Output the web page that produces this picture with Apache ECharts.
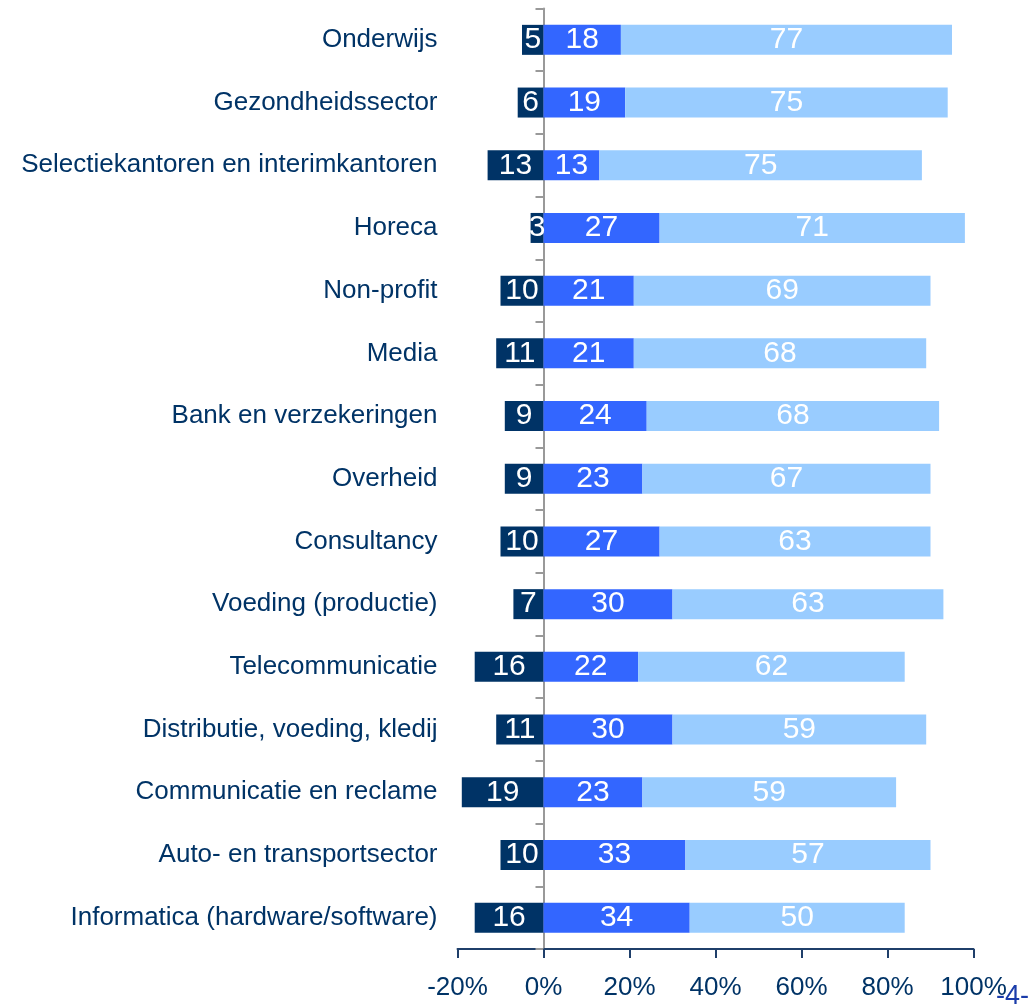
<!DOCTYPE html>
<html>
<head>
<meta charset="utf-8">
<script src="https://cdn.jsdelivr.net/npm/echarts@6/dist/echarts.min.js"></script>
<style>
html,body{margin:0;padding:0;background:#fff;}
#chart{width:1030px;height:1006px;}
</style>
</head>
<body>
<div id="chart"></div>
<script>
const categories = [
  "Onderwijs",
  "Gezondheidssector",
  "Selectiekantoren en interimkantoren",
  "Horeca",
  "Non-profit",
  "Media",
  "Bank en verzekeringen",
  "Overheid",
  "Consultancy",
  "Voeding (productie)",
  "Telecommunicatie",
  "Distributie, voeding, kledij",
  "Communicatie en reclame",
  "Auto- en transportsector",
  "Informatica (hardware/software)"
];
const negativeValues = [5, 6, 13, 3, 10, 11, 9, 9, 10, 7, 16, 11, 19, 10, 16];
const middleValues   = [18, 19, 13, 27, 21, 21, 24, 23, 27, 30, 22, 30, 23, 33, 34];
const positiveValues = [77, 75, 75, 71, 69, 68, 68, 67, 63, 63, 62, 59, 59, 57, 50];
const xTickValues = [-20, 0, 20, 40, 60, 80, 100];

const FONT = "'Liberation Sans', Arial, sans-serif";
const NAVY = "#003366";

const chart = echarts.init(document.getElementById('chart'), null, {renderer: 'canvas'});

const valLabel = {
  show: true,
  position: 'inside',
  color: '#ffffff',
  fontFamily: FONT,
  fontSize: 30,
  formatter: p => String(Math.abs(p.value))
};

chart.setOption({
  animation: false,
  backgroundColor: '#ffffff',
  grid: {left: 457.5, right: 56.5, top: 8.5, bottom: 57, containLabel: false},
  xAxis: {
    type: 'value',
    min: xTickValues[0],
    max: xTickValues[xTickValues.length - 1],
    interval: 20,
    axisLine: {show: true, onZero: false, lineStyle: {color: '#1f3f6a', width: 2}},
    axisTick: {show: true, length: 9, lineStyle: {color: '#1f3f6a', width: 2}},
    splitLine: {show: false},
    axisLabel: {
      color: NAVY, fontFamily: FONT, fontSize: 26, margin: 26,
      formatter: v => v + '%'
    }
  },
  yAxis: [
    {
      type: 'category',
      data: categories,
      inverse: true,
      position: 'left',
      axisLine: {show: false, onZero: false},
      axisTick: {show: false},
      axisLabel: {color: NAVY, fontFamily: FONT, fontSize: 26, margin: 20}
    },
    {
      type: 'category',
      data: categories,
      inverse: true,
      position: 'left',
      axisLine: {show: true, onZero: true, lineStyle: {color: '#999999', width: 2}},
      axisTick: {show: true, length: 8, lineStyle: {color: '#999999', width: 2}},
      axisLabel: {show: false}
    }
  ],
  series: [
    {
      name: 'neg', type: 'bar', stack: 'total', yAxisIndex: 0,
      data: negativeValues.map(v => -v),
      barWidth: 30,
      itemStyle: {color: '#003366'},
      label: valLabel
    },
    {
      name: 'mid', type: 'bar', stack: 'total', yAxisIndex: 0,
      data: middleValues,
      barWidth: 30,
      itemStyle: {color: '#3366ff'},
      label: valLabel
    },
    {
      name: 'pos', type: 'bar', stack: 'total', yAxisIndex: 0,
      data: positiveValues,
      barWidth: 30,
      itemStyle: {color: '#99ccff'},
      label: valLabel
    }
  ],
  graphic: [
    {
      type: 'text',
      left: 996, top: 983,
      style: {text: '-4-', fill: '#1a3caa', font: "27px 'Liberation Sans', Arial, sans-serif"}
    }
  ]
});
</script>
</body>
</html>
